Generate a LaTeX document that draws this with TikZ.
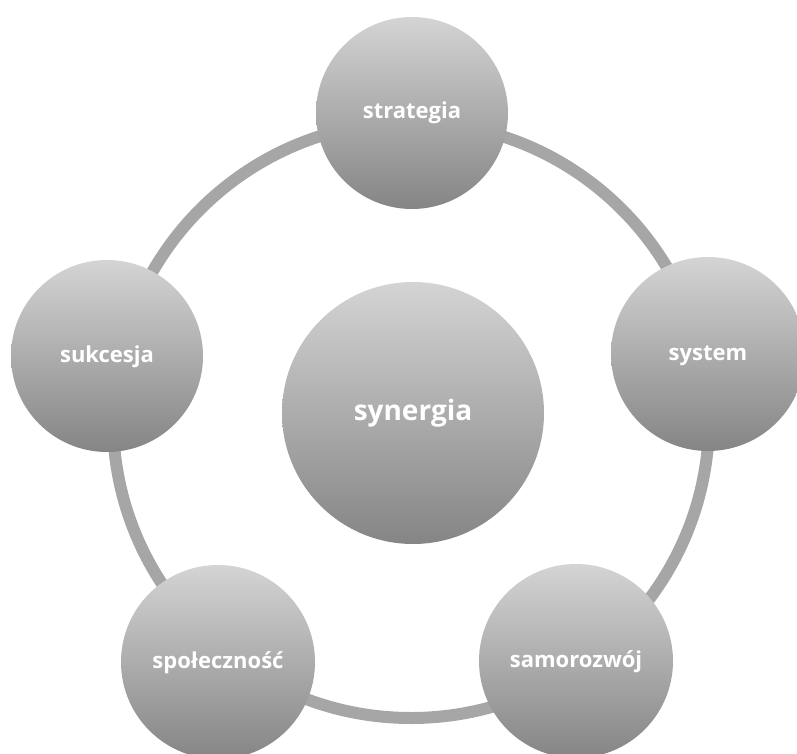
\documentclass[tikz,border=0pt]{standalone}
\usepackage{fontspec}
\setmainfont{Open Sans}
\definecolor{gtop}{HTML}{D4D4D4}
\definecolor{gbot}{HTML}{858585}
\definecolor{ringc}{HTML}{A6A6A6}
\begin{document}
\begin{tikzpicture}[x=1pt,y=-1pt,
  bubble/.style={circle, draw=none, top color=gtop, bottom color=gbot, minimum size=#1, inner sep=0pt},
  lbl/.style={text=white, font=\bfseries\fontsize{22pt}{22pt}\selectfont, text height=12pt, text depth=0pt, inner sep=0pt},
  biglbl/.style={text=white, font=\bfseries\fontsize{28pt}{28pt}\selectfont, text height=15.3pt, text depth=0pt, inner sep=0pt}]
\path[use as bounding box, clip] (0,0) rectangle (797,754);
\coordinate (rc) at (411,420);
\draw[ringc, line width=12pt] (rc) circle[radius=298pt];
\node[bubble=262pt] (syn) at (413,413) {};
\node[bubble=192pt] (str) at (412,113) {};
\node[bubble=194pt] (sys) at (708,354) {};
\node[bubble=194pt] (sam) at (576,661) {};
\node[bubble=194pt] (spo) at (218,662) {};
\node[bubble=192pt] (suk) at (107,356) {};
\node[biglbl] at (syn) {synergia};
\node[lbl] at (str) {strategia};
\node[lbl] at (sys) {system};
\node[lbl] at (sam) {samorozwój};
\node[lbl] at (spo) {społeczność};
\node[lbl] at (suk) {sukcesja};
\end{tikzpicture}
\end{document}
